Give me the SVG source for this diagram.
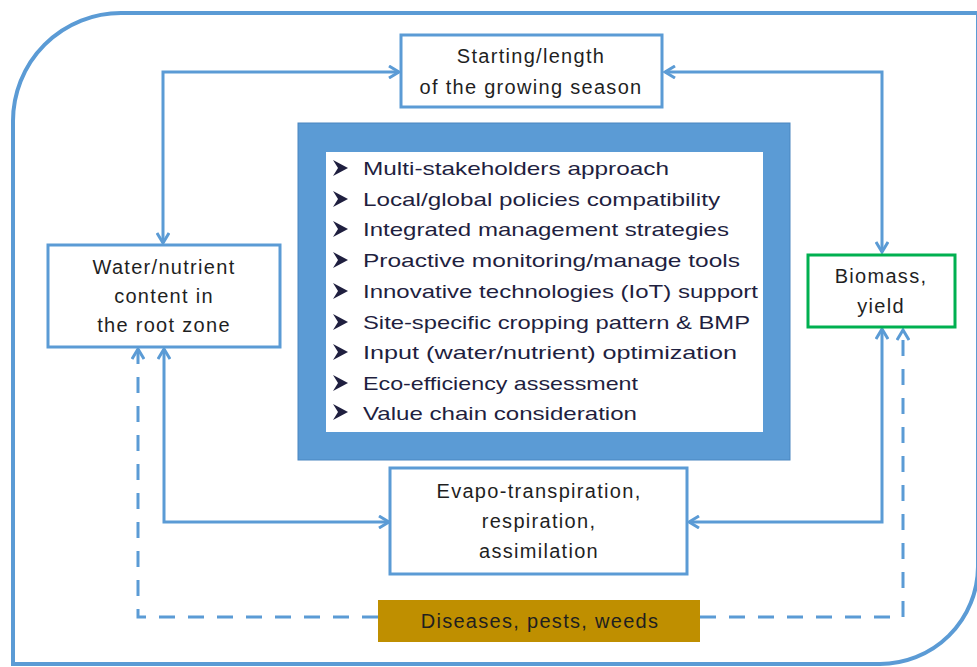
<svg xmlns="http://www.w3.org/2000/svg" width="977" height="667" viewBox="0 0 977 667">
<style>
.box{fill:#fff;stroke:#5b9bd5;stroke-width:3}
.t{font-family:"Liberation Sans",Arial,sans-serif;font-size:20px;letter-spacing:1.3px;fill:#1f1f1f;text-anchor:middle}
.li{font-family:"Liberation Sans",Arial,sans-serif;font-size:19px;fill:#1f1f3f}
.c{fill:none;stroke:#5b9bd5;stroke-width:3}
.d{fill:none;stroke:#5b9bd5;stroke-width:3;stroke-dasharray:16 13}
.b{fill:#1f1f3f}
</style>
<defs>
<marker id="ah" viewBox="0 0 14 14" refX="12" refY="7" markerWidth="14" markerHeight="14" markerUnits="userSpaceOnUse" orient="auto-start-reverse">
<path d="M2,1 L12,7 L2,13" fill="none" stroke="#5b9bd5" stroke-width="3"/>
</marker>
</defs>
<g id="frame">
<path d="M13,664 L13,121 A108,108 0 0 1 121,13 L978,13 L978,567 A98,98 0 0 1 880,664 Z" fill="none" stroke="#5b9bd5" stroke-width="4"/>
</g>
<g id="connectors">
<path class="c" d="M163,243 L163,72 L399,72" marker-start="url(#ah)" marker-end="url(#ah)"/>
<path class="c" d="M882,252 L882,72 L665,72" marker-start="url(#ah)" marker-end="url(#ah)"/>
<path class="c" d="M164,349 L164,522 L389,522" marker-start="url(#ah)" marker-end="url(#ah)"/>
<path class="c" d="M882,329 L882,522 L689,522" marker-start="url(#ah)" marker-end="url(#ah)"/>
<path class="d" d="M378,617 L138,617 L138,349" marker-end="url(#ah)"/>
<path class="d" d="M700,617 L903,617 L903,330" marker-end="url(#ah)"/>
</g>
<g id="season">
<rect class="box" x="401" y="35" width="261" height="72"/>
<text class="t" x="531" y="63">Starting/length</text>
<text class="t" x="531" y="94">of the growing season</text>
</g>
<g id="center">
<rect x="298" y="123" width="492" height="337" fill="#5b9bd5" stroke="#4a86c0" stroke-width="1"/>
<rect x="326" y="152" width="437" height="280" fill="#fff"/>
<g>
<path class="b" d="M333,160 L348,168 L333,176 L338,168 Z"/>
<path class="b" d="M333,191 L348,199 L333,207 L338,199 Z"/>
<path class="b" d="M333,221 L348,229 L333,237 L338,229 Z"/>
<path class="b" d="M333,252 L348,260 L333,268 L338,260 Z"/>
<path class="b" d="M333,283 L348,291 L333,299 L338,291 Z"/>
<path class="b" d="M333,314 L348,322 L333,330 L338,322 Z"/>
<path class="b" d="M333,344 L348,352 L333,360 L338,352 Z"/>
<path class="b" d="M333,375 L348,383 L333,391 L338,383 Z"/>
<path class="b" d="M333,404 L348,412 L333,420 L338,412 Z"/>
</g>
<text class="li" x="363" y="175" textLength="306" lengthAdjust="spacingAndGlyphs">Multi-stakeholders approach</text>
<text class="li" x="363" y="206" textLength="357" lengthAdjust="spacingAndGlyphs">Local/global policies compatibility</text>
<text class="li" x="363" y="236" textLength="366" lengthAdjust="spacingAndGlyphs">Integrated management strategies</text>
<text class="li" x="363" y="267" textLength="377" lengthAdjust="spacingAndGlyphs">Proactive monitoring/manage tools</text>
<text class="li" x="363" y="298" textLength="395" lengthAdjust="spacingAndGlyphs">Innovative technologies (IoT) support</text>
<text class="li" x="363" y="329" textLength="387" lengthAdjust="spacingAndGlyphs">Site-specific cropping pattern &amp; BMP</text>
<text class="li" x="363" y="359" textLength="374" lengthAdjust="spacingAndGlyphs">Input (water/nutrient) optimization</text>
<text class="li" x="363" y="390" textLength="275" lengthAdjust="spacingAndGlyphs">Eco-efficiency assessment</text>
<text class="li" x="363" y="420" textLength="274" lengthAdjust="spacingAndGlyphs">Value chain consideration</text>
</g>
<g id="water">
<rect class="box" x="48" y="245" width="232" height="102"/>
<text class="t" x="164" y="274">Water/nutrient</text>
<text class="t" x="164" y="303">content in</text>
<text class="t" x="164" y="332">the root zone</text>
</g>
<g id="biomass">
<rect x="808" y="255" width="147" height="72" fill="#fff" stroke="#00b050" stroke-width="3"/>
<text class="t" x="881" y="283">Biomass,</text>
<text class="t" x="881" y="313">yield</text>
</g>
<g id="evapo">
<rect class="box" x="390" y="468" width="297" height="106"/>
<text class="t" x="539" y="498">Evapo-transpiration,</text>
<text class="t" x="539" y="528">respiration,</text>
<text class="t" x="539" y="558">assimilation</text>
</g>
<g id="diseases">
<rect x="378" y="600" width="322" height="42" fill="#bf8f00"/>
<text class="t" x="540" y="628">Diseases, pests, weeds</text>
</g>
</svg>
